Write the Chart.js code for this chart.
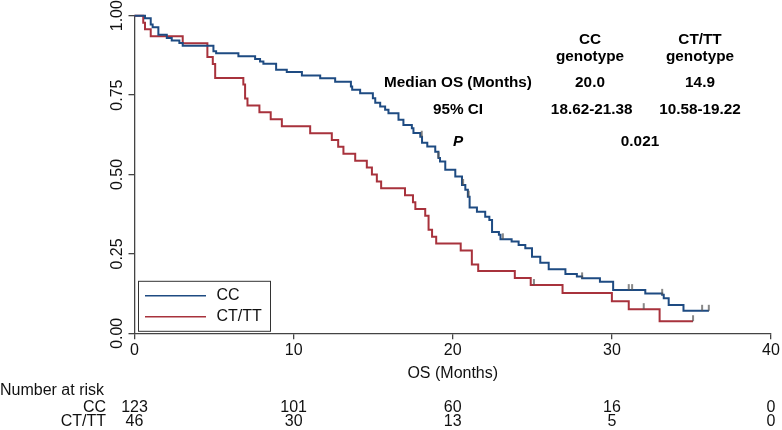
<!DOCTYPE html>
<html>
<head>
<meta charset="utf-8">
<script src="https://cdn.jsdelivr.net/npm/chart.js@4.4.0/dist/chart.umd.min.js"></script>
<style>
  html, body { margin: 0; padding: 0; background: #fff; }
  #wrap { position: relative; width: 782px; height: 430px; }
</style>
</head>
<body>
<div id="wrap"><canvas id="km" width="782" height="430"></canvas></div>
<script>
// Kaplan-Meier steps (time in months, survival prob)
const ccTimes = [0, 0.66, 1.02, 1.14, 1.50, 2.03, 2.34, 2.82, 3.03, 4.96, 5.13, 6.53, 7.58, 7.89, 8.10, 8.90, 9.57,
  10.52, 11.67, 12.61, 13.60, 13.68, 14.18, 14.98, 15.13, 15.44, 15.75, 15.96, 16.59, 16.90, 17.43, 17.53, 17.96,
  18.07, 18.40, 18.90, 19.10, 19.20, 19.53, 20.16, 20.58, 20.79, 20.95, 21.06, 21.52, 22.04, 22.30, 22.47, 22.90,
  23.00, 23.70, 24.14, 24.56, 24.98, 25.50, 26.03, 27.08, 27.80, 28.13, 29.25, 30.08, 32.10, 33.16, 33.26, 33.57,
  34.50, 36.10];
const ccSurv = [1, 0.992, 0.972, 0.964, 0.940, 0.930, 0.922, 0.914, 0.905, 0.888, 0.882, 0.872, 0.864, 0.856, 0.849, 0.830, 0.823,
  0.812, 0.803, 0.792, 0.777, 0.767, 0.756, 0.740, 0.726, 0.714, 0.704, 0.693, 0.672, 0.656, 0.646, 0.631, 0.619,
  0.600, 0.588, 0.572, 0.552, 0.541, 0.515, 0.494, 0.467, 0.452, 0.430, 0.396, 0.383, 0.367, 0.357, 0.319, 0.310,
  0.296, 0.289, 0.278, 0.268, 0.241, 0.222, 0.202, 0.187, 0.179, 0.173, 0.162, 0.136, 0.125, 0.121, 0.110, 0.089,
  0.071, 0.071];
const ctTimes = [0, 0.55, 0.66, 1.02, 3.03, 4.58, 4.92, 5.07, 6.84, 6.95, 7.10, 7.85, 8.56, 9.26, 11.04, 12.40, 12.80,
  13.13, 13.87, 14.60, 14.92, 15.23, 15.50, 17.00, 17.50, 17.65, 18.27, 18.48, 18.70, 18.96, 20.50, 21.20, 21.60,
  23.90, 24.90, 26.90, 30.00, 31.06, 33.00, 35.10];
const ctSurv = [1, 0.978, 0.957, 0.935, 0.913, 0.870, 0.848, 0.804, 0.783, 0.739, 0.717, 0.696, 0.674, 0.652, 0.630, 0.609, 0.587,
  0.565, 0.543, 0.522, 0.500, 0.478, 0.457, 0.435, 0.413, 0.391, 0.370, 0.326, 0.304, 0.283, 0.261, 0.217, 0.196,
  0.174, 0.152, 0.127, 0.101, 0.076, 0.038, 0.038];
const ccCensor = [18.05, 19.10, 20.65, 21.00, 23.15, 28.13, 31.06, 31.27, 33.16, 35.67, 36.09];
const ctCensor = [25.10, 32.00, 35.10];

const groups = ['CC', 'CT/TT'];
const riskTimes = [0, 10, 20, 30, 40];
const riskCC = [123, 101, 60, 16, 0];
const riskCT = [46, 30, 13, 5, 0];
const yTicks = [0, 0.25, 0.5, 0.75, 1];
const yTickLabels = ['0.00', '0.25', '0.50', '0.75', '1.00'];

const statHead = ['CC\ngenotype', 'CT/TT\ngenotype'];
const statRows = ['Median OS (Months)', '95% CI'];
const statCC = ['20.0', '18.62-21.38'];
const statCT = ['14.9', '10.58-19.22'];
const pValue = '0.021';

const BLUE = '#1e4b82', RED = '#a8323c', AXIS = '#444';
const FONT = '"Liberation Sans", Arial, sans-serif';

function survAt(times, surv, t) {
  let i = 0;
  while (i + 1 < times.length && times[i + 1] <= t) i++;
  return surv[i];
}

// little vertical tick used as censor mark (sits on top of the curve)
const tick = document.createElement('canvas');
tick.width = 4; tick.height = 14;
(function () {
  const c = tick.getContext('2d');
  c.strokeStyle = '#555'; c.lineWidth = 1.4;
  c.beginPath(); c.moveTo(2, 1); c.lineTo(2, 7); c.stroke();
})();

const overlay = {
  id: 'overlay',
  afterDraw(chart) {
    const { ctx, chartArea: a, scales: { x, y } } = chart;
    ctx.save();
    ctx.fillStyle = '#111';
    // rotated y labels
    ctx.font = '16px ' + FONT;
    ctx.textAlign = 'center'; ctx.textBaseline = 'middle';
    yTicks.forEach((v, i) => {
      ctx.save();
      ctx.translate(a.left - 16.5, y.getPixelForValue(v));
      ctx.rotate(-Math.PI / 2);
      ctx.fillText(yTickLabels[i], 0, 0);
      ctx.restore();
    });

    // number at risk
    ctx.textAlign = 'left';
    ctx.fillText('Number at risk', 0, 391);
    ctx.textAlign = 'right';
    ctx.fillText(groups[0], 106, 407.5);
    ctx.fillText(groups[1], 106, 422);
    ctx.textAlign = 'center';
    riskTimes.forEach((t, i) => {
      const px = x.getPixelForValue(t);
      ctx.fillText(String(riskCC[i]), px, 407.5);
      ctx.fillText(String(riskCT[i]), px, 422);
    });

    // legend box
    ctx.strokeStyle = '#333'; ctx.lineWidth = 1;
    ctx.strokeRect(a.left + 4, a.bottom - 52, 132, 50);
    [BLUE, RED].forEach((col, i) => {
      const ly = a.bottom - 37.5 + i * 21;
      ctx.strokeStyle = col; ctx.lineWidth = 1.6;
      ctx.beginPath(); ctx.moveTo(a.left + 10.5, ly); ctx.lineTo(a.left + 71.5, ly); ctx.stroke();
      ctx.textAlign = 'left';
      ctx.fillText(groups[i], a.left + 82, ly);
    });

    // stats table
    ctx.fillStyle = '#000';
    ctx.font = 'bold 15.3px ' + FONT;
    ctx.textAlign = 'center';
    const c1 = 590, c2 = 700, c0 = 458;
    statHead.forEach((h, i) => {
      h.split('\n').forEach((ln, j) => ctx.fillText(ln, i ? c2 : c1, 40 + j * 16.7));
    });
    statRows.forEach((r, i) => {
      const ty = 82.7 + i * 27.3;
      ctx.fillText(r, c0, ty);
      ctx.fillText(statCC[i], c1 + i * 1.7, ty);
      ctx.fillText(statCT[i], c2, ty);
    });
    ctx.font = 'italic bold 15.3px ' + FONT;
    ctx.fillText('P', c0, 141.7);
    ctx.font = 'bold 15.3px ' + FONT;
    ctx.fillText(pValue, (c1 + c2) / 2 - 5, 141.7);
    ctx.restore();
  }
};

new Chart(document.getElementById('km'), {
  type: 'line',
  data: {
    datasets: [
      { label: groups[0], data: ccTimes.map((t, i) => ({ x: t, y: ccSurv[i] })), borderColor: BLUE, borderWidth: 2,
        stepped: true, pointRadius: 0, fill: false, clip: false, order: 2 },
      { label: groups[1], data: ctTimes.map((t, i) => ({ x: t, y: ctSurv[i] })), borderColor: RED, borderWidth: 2,
        stepped: true, pointRadius: 0, fill: false, clip: false, order: 3 },
      { type: 'scatter', data: ccCensor.map(t => ({ x: t, y: survAt(ccTimes, ccSurv, t) })), pointStyle: tick,
        showLine: false, clip: false, order: 0 },
      { type: 'scatter', data: ctCensor.map(t => ({ x: t, y: survAt(ctTimes, ctSurv, t) })), pointStyle: tick,
        showLine: false, clip: false, order: 1 }
    ]
  },
  options: {
    responsive: false,
    animation: false,
    layout: { padding: { left: 0, top: 15.7, right: 11, bottom: 46.7 } },
    plugins: { legend: { display: false }, tooltip: { enabled: false } },
    scales: {
      x: {
        type: 'linear', min: 0, max: 40,
        ticks: { stepSize: 10, color: '#111', font: { family: FONT, size: 16 }, padding: 2, maxRotation: 0 },
        grid: { drawOnChartArea: false, drawTicks: true, tickLength: 6, color: AXIS, lineWidth: 1.3 },
        border: { display: true, color: AXIS, width: 1.3 },
        title: { display: true, text: 'OS (Months)', color: '#111', font: { family: FONT, size: 16 }, padding: 0 },
        afterFit(s) { s.height = 50; }
      },
      y: {
        min: 0, max: 1,
        ticks: { stepSize: 0.25, display: false },
        grid: { drawOnChartArea: false, drawTicks: true, tickLength: 6, color: AXIS, lineWidth: 1.3 },
        border: { display: true, color: AXIS, width: 1.3 },
        afterFit(s) { s.width = 134.5; }
      }
    }
  },
  plugins: [overlay]
});
</script>
</body>
</html>
